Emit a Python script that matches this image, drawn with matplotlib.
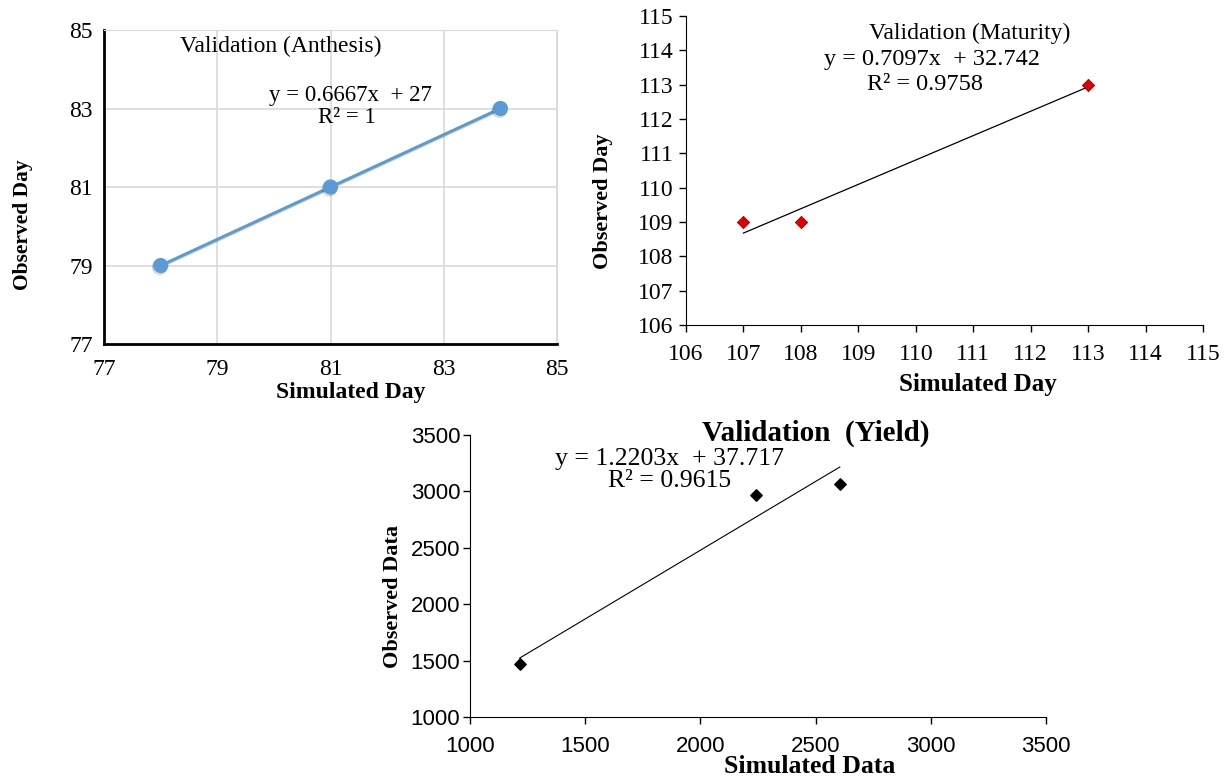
import matplotlib
matplotlib.use("Agg")
import matplotlib.pyplot as plt
import matplotlib.patheffects as pe
import numpy as np

plt.rcParams['font.family'] = ['Liberation Serif', 'DejaVu Serif']

# Anthesis
anth_sim = [78, 81, 84]
anth_obs = [79, 81, 83]
anth_ticks = [77, 79, 81, 83, 85]

# Maturity
mat_sim = [107, 108, 113]
mat_obs = [109, 109, 113]
mat_ticks = list(range(106, 116))

# Yield
yld_sim = [1215, 2240, 2605]
yld_obs = [1470, 2970, 3070]
yld_ticks = [1000, 1500, 2000, 2500, 3000, 3500]

fig = plt.figure(figsize=(12.25, 7.82), dpi=100)

# ---- panel 1: anthesis
ax1 = fig.add_axes([0.0849, 0.560, 0.3698, 0.4016])
ax1.plot(anth_sim, anth_obs, color='#5B9BD5', lw=2.2, marker='o', ms=10,
         zorder=3, path_effects=[pe.SimpleLineShadow(offset=(-0.8, -1.2), alpha=0.18), pe.Normal()])
ax1.set_xlim(77, 85)
ax1.set_ylim(77, 85)
ax1.set_xticks(anth_ticks)
ax1.set_yticks(anth_ticks)
ax1.grid(True, color='#D9D9D9', lw=1.2)
ax1.tick_params(length=0, labelsize=17, pad=8)
ax1.tick_params(axis='x', pad=11)
for s in ['top', 'right']:
    ax1.spines[s].set_color('#D9D9D9')
for s in ['left', 'bottom']:
    ax1.spines[s].set_linewidth(2)
ax1.text(0.39, 0.949, 'Validation (Anthesis)', transform=ax1.transAxes,
         ha='center', va='center', fontsize=17)
ax1.text(0.545, 0.793, 'y = 0.6667x  + 27', transform=ax1.transAxes,
         ha='center', va='center', fontsize=16.5)
ax1.text(0.537, 0.723, 'R² = 1', transform=ax1.transAxes,
         ha='center', va='center', fontsize=16.5)
ax1.set_xlabel('Simulated Day', fontsize=17, fontweight='bold')
ax1.xaxis.set_label_coords(0.545, -0.12)
ax1.set_ylabel('Observed Day', fontsize=15.5, fontweight='bold')
ax1.yaxis.set_label_coords(-0.157, 0.38)

# ---- panel 2: maturity
ax2 = fig.add_axes([0.560, 0.5844, 0.422, 0.3951])
ax2.scatter(mat_sim, mat_obs, marker='D', s=40, color='#E00000',
            edgecolor='#700000', linewidth=0.5, zorder=3)
b2, a2 = np.polyfit(mat_sim, mat_obs, 1)
xs2 = np.array([min(mat_sim), max(mat_sim)])
ax2.plot(xs2, a2 + b2 * xs2, color='black', lw=0.9)
ax2.set_xlim(106, 115)
ax2.set_ylim(106, 115)
ax2.set_xticks(mat_ticks)
ax2.set_yticks(mat_ticks)
ax2.tick_params(direction='out', length=5, width=1, labelsize=17, pad=4)
ax2.tick_params(axis='x', pad=9)
ax2.spines['top'].set_visible(False)
ax2.spines['right'].set_visible(False)
ax2.text(0.549, 0.945, 'Validation (Maturity)', transform=ax2.transAxes,
         ha='center', va='center', fontsize=17)
ax2.text(0.476, 0.858, 'y = 0.7097x  + 32.742', transform=ax2.transAxes,
         ha='center', va='center', fontsize=17.5)
ax2.text(0.462, 0.777, 'R² = 0.9758', transform=ax2.transAxes,
         ha='center', va='center', fontsize=17.5)
ax2.set_xlabel('Simulated Day', fontsize=18, fontweight='bold')
ax2.xaxis.set_label_coords(0.565, -0.155)
ax2.set_ylabel('Observed Day', fontsize=16, fontweight='bold')
ax2.yaxis.set_label_coords(-0.141, 0.40)

# ---- panel 3: yield
ax3 = fig.add_axes([0.3837, 0.0831, 0.4702, 0.3606])
ax3.scatter(yld_sim, yld_obs, marker='D', s=34, color='black', zorder=3)
b3, a3 = np.polyfit(yld_sim, yld_obs, 1)
xs3 = np.array([min(yld_sim), max(yld_sim)])
ax3.plot(xs3, a3 + b3 * xs3, color='black', lw=0.8)
ax3.set_xlim(1000, 3500)
ax3.set_ylim(1000, 3500)
ax3.set_xticks(yld_ticks)
ax3.set_yticks(yld_ticks)
ax3.tick_params(direction='out', length=5, width=1, labelsize=16, pad=2)
ax3.tick_params(axis='x', pad=9)
for lab in ax3.get_xticklabels() + ax3.get_yticklabels():
    lab.set_family('Liberation Sans')
ax3.spines['top'].set_visible(False)
ax3.spines['right'].set_visible(False)
ax3.set_title('Validation  (Yield)', fontsize=21, fontweight='bold', x=0.6, y=0.95)
ax3.text(0.347, 0.915, 'y = 1.2203x  + 37.717', transform=ax3.transAxes,
         ha='center', va='center', fontsize=18.5)
ax3.text(0.347, 0.837, 'R² = 0.9615', transform=ax3.transAxes,
         ha='center', va='center', fontsize=18.5)
ax3.set_xlabel('Simulated Data', fontsize=18.5, fontweight='bold')
ax3.xaxis.set_label_coords(0.59, -0.135)
ax3.set_ylabel('Observed Data', fontsize=16, fontweight='bold')
ax3.yaxis.set_label_coords(-0.116, 0.426)

fig.savefig('out.png', dpi=100)
